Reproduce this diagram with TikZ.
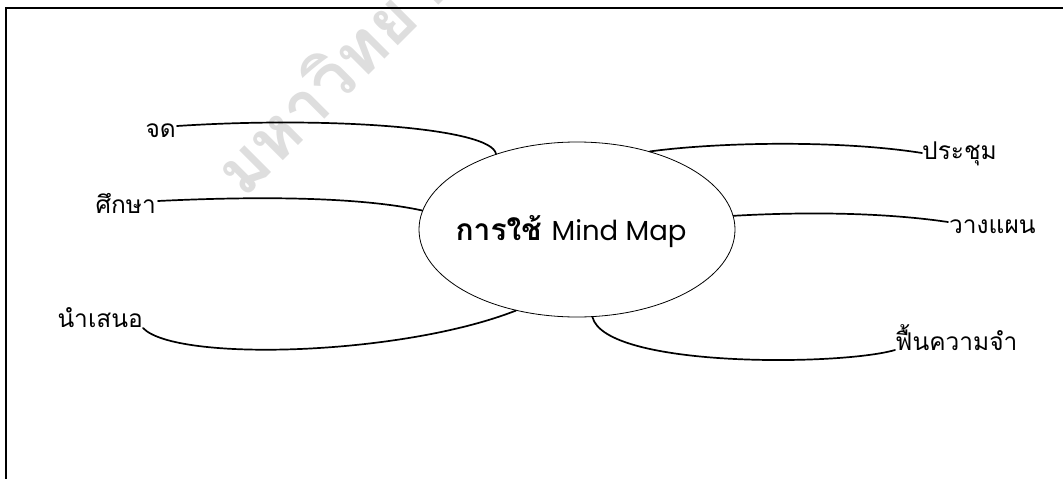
\documentclass[tikz,border=0pt]{standalone}
\usepackage{fontspec}
\setmainfont{Loma}[Script=Thai]
\newfontfamily\thaifont{Loma}[Script=Thai]
\newfontfamily\popfont{Poppins}
\usetikzlibrary{shapes.geometric,calc}
\begin{document}
\begin{tikzpicture}[x=1pt,y=-1pt,
  lbl/.style={inner sep=0pt,font=\thaifont\fontsize{24.5}{24.5}\selectfont},
  conn/.style={line width=1.7pt,line cap=round},
  frame/.style={line width=2pt},
  centre/.style={ellipse,draw,line width=0.8pt,minimum width=316pt,minimum height=175pt,inner sep=0pt,text height=21pt,text depth=0pt},
  wmark/.style={text=black!13,inner sep=0pt,font=\thaifont\bfseries\fontsize{68}{68}\selectfont}]
\useasboundingbox (0,0) rectangle (1063,479);
% watermark
\node[wmark,rotate=45,anchor=base west] (wm) at (244,200) {มหาวิทยาลัย};
% frame
\draw[frame] (5.5,479) -- (5.5,8) -- (1063,8);
% centre
\node[centre] (c) at (577,229.5) {\hspace*{-12pt}{\thaifont\bfseries\fontsize{30}{30}\selectfont การใช้}\hspace{10pt}{\popfont\fontsize{27.5}{27.5}\selectfont Mind Map}};
% labels
\node[lbl,anchor=base east] (jd) at (176,137) {จด};
\node[lbl,anchor=base east] (suksa) at (156,213) {ศึกษา};
\node[lbl,anchor=base east] (nam) at (143,327) {นำเสนอ};
\node[lbl,anchor=base west] (pra) at (922,159) {ประชุม};
\node[lbl,anchor=base west] (wang) at (949,233) {วางแผน};
\node[lbl,anchor=base west] (fuen) at (895,350) {ฟื้นความจำ};
% connectors
\draw[conn] ($(jd.base east)+(1,-11)$) .. controls (330,116) and (492,128) .. (c.137);
\draw[conn] ($(suksa.base east)+(2,-12)$) .. controls (260,196) and (360,197) .. (c.173);
\draw[conn] ($(nam.base east)+(0,1)$) .. controls (175,362) and (400,356) .. (c.233);
\draw[conn] (c.47) .. controls (720,142) and (840,140) .. ($(pra.base west)+(0,-6)$);
\draw[conn] (c.5) .. controls (800,212) and (880,212) .. ($(wang.base west)+(-1,-11)$);
\draw[conn] (c.280) .. controls (605,368) and (840,366) .. ($(fuen.base west)+(0,0)$);
\end{tikzpicture}
\end{document}
